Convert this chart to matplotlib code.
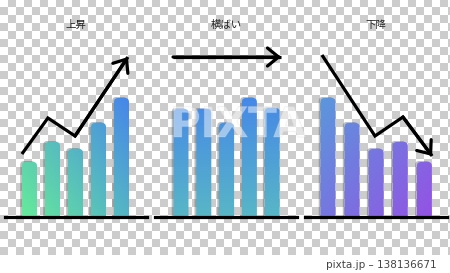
import matplotlib
matplotlib.use("Agg")
import matplotlib.pyplot as plt
import matplotlib.patheffects as pe
from matplotlib.patches import FancyBboxPatch
from matplotlib.colors import to_rgb
import numpy as np

# three small trend charts: rising / flat / falling
titles = ["上昇", "横ばい", "下降"]
heights_up = [55, 75, 68, 94, 119]
heights_flat = [108, 108, 94, 119, 109]
heights_down = [119, 94, 68, 75, 55]

arrow_up_x = [-0.33, 0.80, 1.98, 4.28]
arrow_up_y = [63, 99, 81, 160]
arrow_flat_x = [-0.35, 4.39]
arrow_flat_y = [160, 160]
arrow_down_x = [-0.25, 1.95, 3.11, 4.32]
arrow_down_y = [162, 81, 100, 61]

W, H = 450, 273
fig = plt.figure(figsize=(4.5, 2.73), dpi=100)

# checkerboard "transparent" background
bg = fig.add_axes([0, 0, 1, 1])
rows = (np.arange(H) + 1) // 8
cols = np.arange(W) // 8
gray = (rows[:, None] + cols[None, :]) % 2 == 1
gray[255:, :] = False
img = np.where(gray, 0.80, 1.0)
bg.imshow(np.dstack([img, img, img]), extent=(0, W, H, 0), aspect="auto",
          interpolation="nearest")
bg.set_xlim(0, W)
bg.set_ylim(H, 0)
bg.axis("off")

panels = [
    # left px, first bar px, bar spacing px, heights, arrow, gradient
    (5, 29.5, 23.0, heights_up, arrow_up_x, arrow_up_y, "up"),
    (155, 181.0, 22.8, heights_flat, arrow_flat_x, arrow_flat_y, "flat"),
    (305, 328.0, 24.1, heights_down, arrow_down_x, arrow_down_y, "down"),
]

def gradient(kind, nx=60, ny=60):
    xf = np.linspace(0, 1, nx)[None, :]
    yf = np.linspace(0, 1, ny)[:, None]
    if kind == "up":
        t = np.clip(0.55 * xf + 0.45 * yf, 0, 1)
        c0, c1 = to_rgb("#66eb9a"), to_rgb("#4685ea")
    elif kind == "flat":
        t = yf + 0 * xf
        c0, c1 = to_rgb("#58b6c6"), to_rgb("#4688e8")
    else:
        t = np.clip(0.55 * xf + 0.45 * (1 - yf), 0, 1)
        c0, c1 = to_rgb("#5a98dc"), to_rgb("#9452e4")
    c0, c1 = np.array(c0), np.array(c1)
    return c0 + (c1 - c0) * t[..., None]

for (left, x0, sp, heights, ax_x, ax_y, kind), title in zip(panels, titles):
    base_px = 217
    ax = fig.add_axes([left / W, (H - base_px) / H, 142 / W, base_px / H])
    xlim = ((left - x0) / sp, (left + 142 - x0) / sp)
    ax.axis("off")

    bw = 15 / sp
    bars = ax.bar(range(len(heights)), heights, width=bw, color="none")
    grad = gradient(kind)
    r = 4 / sp
    for rect in bars:
        x, w, h = rect.get_x(), rect.get_width(), rect.get_height()
        rect.remove()
        shadow = FancyBboxPatch((x - 1.8 / sp, -6), w, h + 7,
                                boxstyle=f"round,pad=0,rounding_size={r}",
                                mutation_aspect=sp, fc="#444444", ec="none",
                                alpha=0.35, zorder=1)
        ax.add_patch(shadow)
        patch = FancyBboxPatch((x, -6), w, h + 6,
                               boxstyle=f"round,pad=0,rounding_size={r}",
                               mutation_aspect=sp, fc="none", ec="none",
                               zorder=2)
        ax.add_patch(patch)
        im = ax.imshow(grad, extent=(-0.4, 4.4, 0, 120), origin="lower",
                       aspect="auto", zorder=2, interpolation="bilinear")
        im.set_clip_path(patch)

    ax.plot(ax_x, ax_y, color="black", lw=2.3, solid_joinstyle="miter",
            solid_capstyle="butt", zorder=4)
    ax.annotate("", xy=(ax_x[-1], ax_y[-1]), xytext=(ax_x[-2], ax_y[-2]),
                arrowprops=dict(arrowstyle="->,head_length=0.8,head_width=0.65",
                                lw=2.3, color="black", mutation_scale=10,
                                shrinkA=0, shrinkB=0, joinstyle="miter"),
                zorder=4)
    ax.axhline(0, color="black", lw=2.3, clip_on=False, zorder=5)
    ax.text(2, 192, title, ha="center", va="center", fontsize=7.5,
            color="#222222", family=["Noto Sans CJK JP", "DejaVu Sans"])
    ax.set_xlim(*xlim)
    ax.set_ylim(0, base_px)

# faint watermark
fig.text(238 / W, 1 - 125 / H, "PIXTA", ha="center", va="center",
         fontsize=30, fontweight="bold", color="white", alpha=0.28,
         path_effects=[pe.withStroke(linewidth=0.8, foreground="#d0d0d0")])

fig.text(437 / W, 1 - 265 / H, "pixta.jp – 138136671", ha="right",
         va="center", fontsize=7.5, color="#444444")

fig.savefig("out.png", dpi=100)
